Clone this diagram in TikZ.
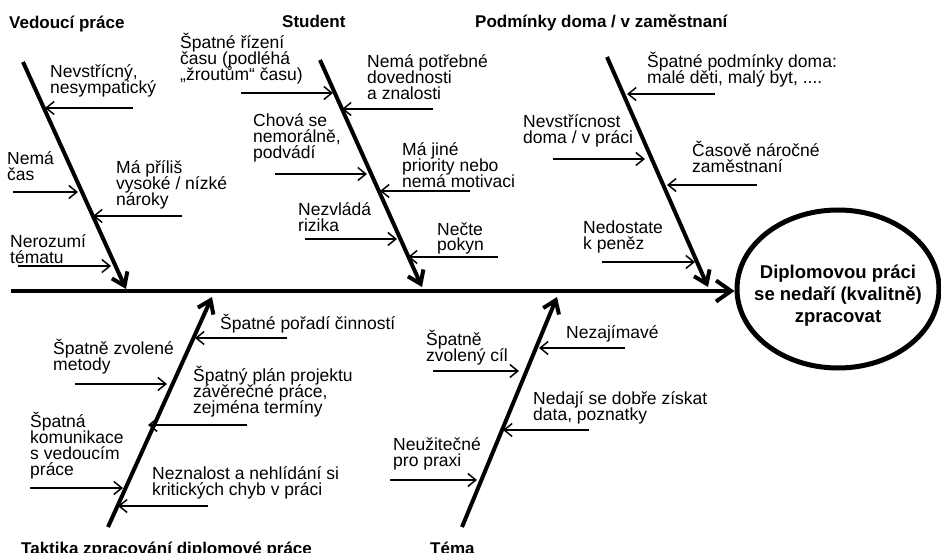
\documentclass[tikz,border=0pt]{standalone}
\usepackage{fontspec}
\setmainfont{Liberation Sans}
\usetikzlibrary{arrows.meta, shapes.geometric, positioning}
\newcommand\causefont{\fontsize{17.5}{16}\selectfont\lineskiplimit-50pt\relax}

\begin{document}
\begin{tikzpicture}[x=1pt, y=-1pt,
    bone/.style={line width=4pt, -{Straight Barb[length=12pt, width=17pt]}},
    spine/.style={line width=4pt, -{Straight Barb[length=15pt, width=21pt]}},
    cause/.style={line width=1.5pt, -{Straight Barb[length=8pt, width=13pt]}},
    txt/.style={anchor=base west, align=left, inner sep=0pt, font=\causefont},
    head/.style={anchor=base west, inner sep=0pt, font=\bfseries\fontsize{17}{20}\selectfont},
    goal/.style={ellipse, draw, line width=5pt, minimum width=202pt, minimum height=158pt,
        inner xsep=-25pt, inner ysep=0pt, align=center,
        font=\bfseries\fontsize{18.5}{22}\selectfont}]
    \useasboundingbox (0,0) rectangle (941,553);

    % Effect and spine
    \node[goal] (goal) at (838,289) {\rule{0pt}{27pt}Diplomovou práci\\se nedaří (kvalitně)\\zpracovat};
    \coordinate (spine0) at (11,291);
    \draw[spine] (spine0) -- (spine0 -| goal.west);

    % Category titles
    \node[head] (tVed) at (9,29) {Vedoucí práce};
    \node[head] (tStu) at (282,28) {Student};
    \node[head] (tPod) at (475,28) {Podmínky doma / v zaměstnaní};
    \node[head] (tTak) at (21,554) {Taktika zpracování diplomové práce};
    \node[head] (tTem) at (430,554) {Téma};

    % Bones
    \coordinate (V0) at (23,62);   \coordinate (V1) at (126,289);
    \coordinate (S0) at (320,60);  \coordinate (S1) at (422,287);
    \coordinate (P0) at (607,57);  \coordinate (P1) at (708,287);
    \coordinate (T0) at (108,527); \coordinate (T1) at (212,297);
    \coordinate (M0) at (462,527); \coordinate (M1) at (557,297);
    \draw[bone] (V0) -- (V1);
    \draw[bone] (S0) -- (S1);
    \draw[bone] (P0) -- (P1);
    \draw[bone] (T0) -- (T1);
    \draw[bone] (M0) -- (M1);

    % Vedouci prace (text nodes sit on their last baseline)
    \node[txt] (v1) at (50,94) {Nevstřícný,\\nesympatický};
    \coordinate (v1a) at (133,108); \coordinate (v1b) at (45,108);
    \node[txt] (v2) at (7,181) {Nemá\\čas};
    \coordinate (v2a) at (13,192); \coordinate (v2b) at (78,192);
    \node[txt] (v3) at (116,206) {Má příliš\\vysoké / nízké\\nároky};
    \coordinate (v3a) at (182,216); \coordinate (v3b) at (93,216);
    \node[txt] (v4) at (10,263) {Nerozumí\\tématu};
    \coordinate (v4a) at (18,266); \coordinate (v4b) at (111,266);
    \draw[cause] (v1a) -- (v1b);
    \draw[cause] (v2a) -- (v2b);
    \draw[cause] (v3a) -- (v3b);
    \draw[cause] (v4a) -- (v4b);

    % Student
    \node[txt] (s1) at (180,81) {Špatné řízení\\času (podléhá\\„žroutům“ času)};
    \coordinate (s1a) at (241,93); \coordinate (s1b) at (333,93);
    \node[txt] (s2) at (367,100) {Nemá potřebné\\dovednosti\\a znalosti};
    \coordinate (s2a) at (433,109); \coordinate (s2b) at (342,109);
    \node[txt] (s3) at (253,159) {Chová se\\nemorálně,\\podvádí};
    \coordinate (s3a) at (275,174); \coordinate (s3b) at (367,174);
    \node[txt] (s4) at (402,188) {Má jiné\\priority nebo\\nemá motivaci};
    \coordinate (s4a) at (470,191); \coordinate (s4b) at (380,191);
    \node[txt] (s5) at (298,231) {Nezvládá\\rizika};
    \coordinate (s5a) at (305,239); \coordinate (s5b) at (397,239);
    \node[txt] (s6) at (437,251) {Nečte\\pokyn};
    \coordinate (s6a) at (498,257); \coordinate (s6b) at (408,257);
    \draw[cause] (s1a) -- (s1b);
    \draw[cause] (s2a) -- (s2b);
    \draw[cause] (s3a) -- (s3b);
    \draw[cause] (s4a) -- (s4b);
    \draw[cause] (s5a) -- (s5b);
    \draw[cause] (s6a) -- (s6b);

    % Podminky doma / v zamestnani
    \node[txt] (p1) at (647,83.5) {Špatné podmínky doma:\\malé děti, malý byt, ....};
    \coordinate (p1a) at (715,94); \coordinate (p1b) at (627,94);
    \node[txt] (p2) at (523,143.5) {Nevstřícnost\\doma / v práci};
    \coordinate (p2a) at (553,159); \coordinate (p2b) at (645,159);
    \node[txt] (p3) at (692,173) {Časově náročné\\zaměstnaní};
    \coordinate (p3a) at (757,185); \coordinate (p3b) at (667,185);
    \node[txt] (p4) at (583,249.5) {Nedostate\\k peněz};
    \coordinate (p4a) at (602,262); \coordinate (p4b) at (695,262);
    \draw[cause] (p1a) -- (p1b);
    \draw[cause] (p2a) -- (p2b);
    \draw[cause] (p3a) -- (p3b);
    \draw[cause] (p4a) -- (p4b);

    % Taktika zpracovani
    \node[txt] (k1) at (220,329) {Špatné pořadí činností};
    \coordinate (k1a) at (287,338); \coordinate (k1b) at (195,338);
    \node[txt] (k2) at (53,370) {Špatně zvolené\\metody};
    \coordinate (k2a) at (75,384); \coordinate (k2b) at (167,384);
    \node[txt] (k3) at (193,413.5) {Špatný plán projektu\\závěrečné práce,\\zejména termíny};
    \coordinate (k3a) at (247,425); \coordinate (k3b) at (148,425);
    \node[txt] (k4) at (30,475) {Špatná\\komunikace\\s vedoucím\\práce};
    \coordinate (k4a) at (30,488); \coordinate (k4b) at (123,488);
    \node[txt] (k5) at (152,495) {Neznalost a nehlídání si\\kritických chyb v práci};
    \coordinate (k5a) at (208,506); \coordinate (k5b) at (118,506);
    \draw[cause] (k1a) -- (k1b);
    \draw[cause] (k2a) -- (k2b);
    \draw[cause] (k3a) -- (k3b);
    \draw[cause] (k4a) -- (k4b);
    \draw[cause] (k5a) -- (k5b);

    % Tema
    \node[txt] (m1) at (566,338) {Nezajímavé};
    \coordinate (m1a) at (625,348); \coordinate (m1b) at (539,348);
    \node[txt] (m2) at (426,361.5) {Špatně\\zvolený cíl};
    \coordinate (m2a) at (433,371); \coordinate (m2b) at (519,371);
    \node[txt] (m3) at (533,420) {Nedají se dobře získat\\data, poznatky};
    \coordinate (m3a) at (589,430); \coordinate (m3b) at (503,430);
    \node[txt] (m4) at (393,466.5) {Neužitečné\\pro praxi};
    \coordinate (m4a) at (390,480); \coordinate (m4b) at (477,480);
    \draw[cause] (m1a) -- (m1b);
    \draw[cause] (m2a) -- (m2b);
    \draw[cause] (m3a) -- (m3b);
    \draw[cause] (m4a) -- (m4b);
\end{tikzpicture}
\end{document}
